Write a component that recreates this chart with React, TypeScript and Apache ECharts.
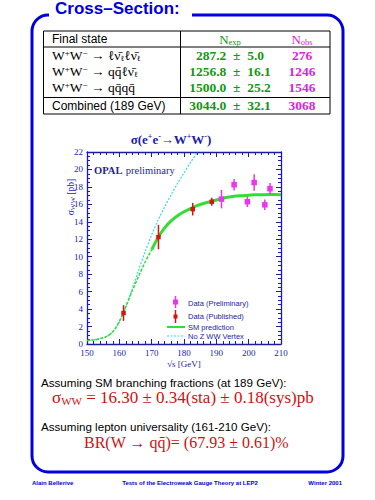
import React, { useEffect, useRef } from "react";
import * as echarts from "echarts";

// ---- data ----
const publishedEnergy = [161.3, 172.1, 182.7, 188.6];
const publishedSigma = [3.55, 12.25, 15.45, 16.3];
const publishedErr = [0.9, 1.4, 0.72, 0.45];

const prelimEnergy = [191.6, 195.5, 199.6, 201.7, 205.0, 206.6];
const prelimSigma = [16.6, 18.25, 16.3, 18.5, 15.95, 17.8];
const prelimErr = [1.05, 0.65, 0.6, 0.95, 0.6, 0.65];

const smEnergy = [150, 152, 154, 156, 158, 160, 162, 164, 166, 168, 170, 172, 174, 176, 178, 180, 182, 184, 186, 188, 190, 192, 194, 196, 198, 200, 202, 204, 206, 208, 210];
const smSigma = [0.4, 0.45, 0.6, 0.85, 1.4, 2.6, 4.3, 6.1, 7.8, 9.4, 10.8, 12.2, 13.3, 14.1, 14.7, 15.15, 15.5, 15.85, 16.1, 16.3, 16.5, 16.7, 16.85, 16.95, 17.0, 17.05, 17.1, 17.1, 17.12, 17.12, 17.1];

const noZwwEnergy = [150, 152, 154, 156, 158, 160, 162, 164, 166, 168, 170, 172, 174, 176, 178, 180, 182, 184, 186];
const noZwwSigma = [0.4, 0.5, 0.65, 0.85, 1.4, 2.5, 4.2, 6.3, 8.5, 10.6, 12.5, 14.2, 15.7, 17.1, 18.4, 19.6, 20.8, 21.9, 23.0];

const xTicks = { min: 150, max: 210, interval: 10 };
const yTicks = { min: 0, max: 22, interval: 2 };

const finalStates = [
  "{a|W}{p|+}{a|W}{p|−}{a| → ℓν̄}{b|ℓ}{a|ℓν̄}{b|ℓ}",
  "{a|W}{p|+}{a|W}{p|−}{a| → qq̄ℓν̄}{b|ℓ}",
  "{a|W}{p|+}{a|W}{p|−}{a| → qq̄qq̄}",
];
const combinedLabel = "Combined (189 GeV)";
const nExp = ["287.2", "1256.8", "1500.0", "3044.0"];
const nExpErr = ["5.0", "16.1", "25.2", "32.1"];
const nObs = ["276", "1246", "1546", "3068"];

const legendLabels = ["Data (Preliminary)", "Data (Published)", "SM prediction", "No Z WW Vertex"];

const BLUE = "#0000dd";
const PBLUE = "#1c1ca8";
const GREEN_T = "#119911";
const MAG_T = "#dd22dd";
const RED = "#dd1111";
const MAG = "#ee33ee";
const LGREEN = "#33dd33";
const CYAN = "#33dddd";
const SERIF = "'Liberation Serif', 'DejaVu Serif', serif";
const SANS = "'Liberation Sans', 'DejaVu Sans', sans-serif";

function errorBarSeries(xs: number[], ys: number[], es: number[], color: string, size: number, width: number) {
  return {
    type: "custom",
    xAxisIndex: 0,
    yAxisIndex: 0,
    data: xs.map((x, i) => [x, ys[i], es[i]]),
    encode: { x: 0, y: 1 },
    z: 5,
    renderItem: (params: any, api: any) => {
      const x = api.value(0);
      const y = api.value(1);
      const e = api.value(2);
      const p = api.coord([x, y]);
      const lo = api.coord([x, y - e]);
      const hi = api.coord([x, y + e]);
      return {
        type: "group",
        children: [
          { type: "line", shape: { x1: p[0], y1: lo[1], x2: p[0], y2: hi[1] }, style: { stroke: color, lineWidth: width } },
          { type: "rect", shape: { x: p[0] - size / 2, y: p[1] - size / 2, width: size, height: size }, style: { fill: color } },
        ],
      };
    },
  };
}

function buildOption(): any {
  const rowY = [55, 71, 87.5];
  const graphic: any[] = [];

  // slide frame
  graphic.push({ type: "rect", shape: { x: 32, y: 15, width: 311, height: 457, r: 16 }, style: { fill: "none", stroke: BLUE, lineWidth: 3 } });
  graphic.push({ type: "rect", shape: { x: 49, y: 10, width: 143, height: 10 }, style: { fill: "#fff" } });
  graphic.push({ type: "text", x: 55, y: 8.5, style: { text: "Cross–Section:", fill: BLUE, font: `bold 17px ${SANS}`, textVerticalAlign: "middle" } });

  // table
  graphic.push({ type: "rect", shape: { x: 43.5, y: 31, width: 286.5, height: 83 }, style: { fill: "none", stroke: "#000", lineWidth: 1 } });
  graphic.push({ type: "line", shape: { x1: 180.5, y1: 31, x2: 180.5, y2: 114 }, style: { stroke: "#000", lineWidth: 1 } });
  graphic.push({ type: "line", shape: { x1: 43.5, y1: 47, x2: 330, y2: 47 }, style: { stroke: "#000", lineWidth: 1 } });
  graphic.push({ type: "line", shape: { x1: 43.5, y1: 97.5, x2: 330, y2: 97.5 }, style: { stroke: "#000", lineWidth: 1 } });
  graphic.push({ type: "text", x: 52, y: 39, style: { text: "Final state", fill: "#000", font: `12px ${SANS}`, textVerticalAlign: "middle" } });
  graphic.push({
    type: "text", x: 230, y: 39,
    style: {
      text: "{n|N}{s|exp}", textAlign: "center", textVerticalAlign: "middle",
      rich: {
        n: { fill: GREEN_T, fontFamily: SERIF, fontSize: 13, lineHeight: 14 },
        s: { fill: GREEN_T, fontFamily: SERIF, fontSize: 8.5, lineHeight: 8, verticalAlign: "bottom" },
      },
    },
  });
  graphic.push({
    type: "text", x: 302, y: 39,
    style: {
      text: "{n|N}{s|obs}", textAlign: "center", textVerticalAlign: "middle",
      rich: {
        n: { fill: MAG_T, fontFamily: SERIF, fontSize: 13, lineHeight: 14 },
        s: { fill: MAG_T, fontFamily: SERIF, fontSize: 8.5, lineHeight: 8, verticalAlign: "bottom" },
      },
    },
  });
  finalStates.forEach((t, i) => {
    graphic.push({
      type: "text", x: 52, y: rowY[i],
      style: {
        text: t, textVerticalAlign: "middle",
        rich: {
          a: { fill: "#000", fontFamily: SERIF, fontSize: 13.5, lineHeight: 14 },
          p: { fill: "#000", fontFamily: SERIF, fontSize: 9, lineHeight: 9, verticalAlign: "top" },
          b: { fill: "#000", fontFamily: SERIF, fontSize: 8, lineHeight: 8, verticalAlign: "bottom" },
        },
      },
    });
  });
  graphic.push({ type: "text", x: 52, y: 105.5, style: { text: combinedLabel, fill: "#000", font: `12px ${SANS}`, textVerticalAlign: "middle" } });
  const allRowY = [...rowY, 105.5];
  nExp.forEach((v, i) => {
    graphic.push({ type: "text", x: 230, y: allRowY[i], style: { text: `${v}\u2002±\u2002${nExpErr[i]}`, fill: GREEN_T, font: `bold 13.5px ${SERIF}`, textAlign: "center", textVerticalAlign: "middle" } });
    graphic.push({ type: "text", x: 302, y: allRowY[i], style: { text: nObs[i], fill: MAG_T, font: `bold 13.5px ${SERIF}`, textAlign: "center", textVerticalAlign: "middle" } });
  });

  // plot annotations
  graphic.push({
    type: "text", x: 171, y: 139,
    style: {
      text: "{a|σ(e}{p|+}{a|e}{p|-}{a|→W}{p|+}{a|W}{p|-}{a|)}", textAlign: "center", textVerticalAlign: "middle",
      rich: {
        a: { fill: PBLUE, fontFamily: SERIF, fontSize: 13, fontWeight: "bold", lineHeight: 14 },
        p: { fill: PBLUE, fontFamily: SERIF, fontSize: 8, fontWeight: "bold", lineHeight: 8, verticalAlign: "top" },
      },
    },
  });
  graphic.push({
    type: "text", x: 94, y: 170,
    style: {
      text: "{b|OPAL} {r|preliminary}", textVerticalAlign: "middle",
      rich: {
        b: { fill: PBLUE, fontFamily: SERIF, fontSize: 10.5, fontWeight: "bold" },
        r: { fill: PBLUE, fontFamily: SERIF, fontSize: 10.5 },
      },
    },
  });
  graphic.push({
    type: "text", x: 71, y: 197, rotation: Math.PI / 2,
    style: {
      text: "{a|σ}{b|WW}{a| [pb]}", textAlign: "center", textVerticalAlign: "middle",
      rich: {
        a: { fill: PBLUE, fontFamily: SERIF, fontSize: 9.5, lineHeight: 11 },
        b: { fill: PBLUE, fontFamily: SERIF, fontSize: 7, lineHeight: 7, verticalAlign: "bottom" },
      },
    },
  });

  // legend
  graphic.push({ type: "line", shape: { x1: 175.5, y1: 296, x2: 175.5, y2: 308 }, style: { stroke: MAG, lineWidth: 1.5 } });
  graphic.push({ type: "rect", shape: { x: 173, y: 299.5, width: 5, height: 5 }, style: { fill: MAG } });
  graphic.push({ type: "line", shape: { x1: 175.5, y1: 310, x2: 175.5, y2: 323 }, style: { stroke: RED, lineWidth: 1.5 } });
  graphic.push({ type: "rect", shape: { x: 173.5, y: 314.5, width: 4, height: 4 }, style: { fill: RED } });
  graphic.push({ type: "line", shape: { x1: 167, y1: 327, x2: 185, y2: 327 }, style: { stroke: LGREEN, lineWidth: 2 } });
  graphic.push({ type: "line", shape: { x1: 167, y1: 336, x2: 185, y2: 336 }, style: { stroke: CYAN, lineWidth: 1.2, lineDash: [2, 1.5] } });
  const legY = [303, 316.5, 327.5, 336.5];
  legendLabels.forEach((t, i) => {
    graphic.push({ type: "text", x: 188, y: legY[i], style: { text: t, fill: PBLUE, font: `7.5px ${SANS}`, textVerticalAlign: "middle" } });
  });

  // conclusions
  graphic.push({ type: "text", x: 41, y: 382, style: { text: "Assuming SM branching fractions (at 189 GeV):", fill: "#000", font: `11.6px ${SANS}`, textVerticalAlign: "middle" } });
  graphic.push({
    type: "text", x: 52, y: 397,
    style: {
      text: "{a|σ}{b|WW}{a| = 16.30 ± 0.34(sta) ± 0.18(sys)pb}", textVerticalAlign: "middle",
      rich: {
        a: { fill: "#cc1111", fontFamily: SERIF, fontSize: 17, lineHeight: 18 },
        b: { fill: "#cc1111", fontFamily: SERIF, fontSize: 11, lineHeight: 11, verticalAlign: "bottom" },
      },
    },
  });
  graphic.push({ type: "text", x: 41, y: 426, style: { text: "Assuming lepton universality (161-210 GeV):", fill: "#000", font: `11.6px ${SANS}`, textVerticalAlign: "middle" } });
  graphic.push({ type: "text", x: 84, y: 442, style: { text: "BR(W → qq̄)= (67.93 ± 0.61)%", fill: "#cc1111", font: `16px ${SERIF}`, textVerticalAlign: "middle" } });

  // footer
  graphic.push({ type: "text", x: 32, y: 483, style: { text: "Alain Bellerive", fill: BLUE, font: `bold 6px ${SANS}`, textVerticalAlign: "middle" } });
  graphic.push({ type: "text", x: 190, y: 483, style: { text: "Tests of the Electroweak Gauge Theory at LEP2", fill: BLUE, font: `bold 6px ${SANS}`, textAlign: "center", textVerticalAlign: "middle" } });
  graphic.push({ type: "text", x: 342, y: 483, style: { text: "Winter 2001", fill: BLUE, font: `bold 6px ${SANS}`, textAlign: "right", textVerticalAlign: "middle" } });

  const axisCommon = {
    type: "value",
    axisLine: { show: true, onZero: false, lineStyle: { color: PBLUE, width: 1.3 } },
    axisTick: { show: true, inside: true, length: 5, lineStyle: { color: PBLUE, width: 1 } },
    minorTick: { show: true, length: 3, lineStyle: { color: PBLUE, width: 1 } },
    splitLine: { show: false },
  };
  const labelStyle = { color: PBLUE, fontFamily: SERIF, fontSize: 9 };

  const smSplit = smEnergy.indexOf(170);
  const smData = smEnergy.map((x, i) => [x, smSigma[i]]);

  return {
    animation: false,
    backgroundColor: "#fff",
    grid: { left: 87, right: 94, top: 152, bottom: 156 },
    xAxis: [
      {
        ...axisCommon, ...xTicks, position: "bottom",
        minorTick: { ...axisCommon.minorTick, splitNumber: 5 },
        axisLabel: { ...labelStyle, margin: 4 },
        name: "√s [GeV]", nameLocation: "middle", nameGap: 15,
        nameTextStyle: { color: PBLUE, fontFamily: SERIF, fontSize: 9 },
      },
      {
        ...axisCommon, ...xTicks, position: "top",
        minorTick: { ...axisCommon.minorTick, splitNumber: 5 },
        axisLabel: { show: false },
      },
    ],
    yAxis: [
      {
        ...axisCommon, ...yTicks, position: "left",
        minorTick: { ...axisCommon.minorTick, splitNumber: 4 },
        axisLabel: { ...labelStyle, margin: 4 },
      },
      {
        ...axisCommon, ...yTicks, position: "right",
        minorTick: { ...axisCommon.minorTick, splitNumber: 4 },
        axisLabel: { show: false },
      },
    ],
    series: [
      {
        type: "line", xAxisIndex: 0, yAxisIndex: 0, showSymbol: false, smooth: 0.3,
        data: noZwwEnergy.map((x, i) => [x, noZwwSigma[i]]),
        lineStyle: { color: CYAN, width: 1.2, type: [2, 1.5] }, z: 2,
      },
      {
        type: "line", xAxisIndex: 0, yAxisIndex: 0, showSymbol: false, smooth: 0.3,
        data: smData.slice(0, smSplit + 1),
        lineStyle: { color: LGREEN, width: 1.5, type: [3, 1.5] }, z: 3,
      },
      {
        type: "line", xAxisIndex: 0, yAxisIndex: 0, showSymbol: false, smooth: 0.3,
        data: smData.slice(smSplit),
        lineStyle: { color: LGREEN, width: 3 }, z: 3,
      },
      errorBarSeries(prelimEnergy, prelimSigma, prelimErr, MAG, 5.5, 1.5),
      errorBarSeries(publishedEnergy, publishedSigma, publishedErr, RED, 4.5, 1.5),
    ],
    graphic,
  };
}

export default function App() {
  const ref = useRef<HTMLDivElement>(null);
  useEffect(() => {
    if (!ref.current) return;
    const chart = echarts.init(ref.current, null, { renderer: "svg" });
    chart.setOption(buildOption());
    return () => chart.dispose();
  }, []);
  return (
    <div
      ref={ref}
      style={{ position: "absolute", left: 0, top: 0, width: 375, height: 500, background: "#fff" }}
    />
  );
}
